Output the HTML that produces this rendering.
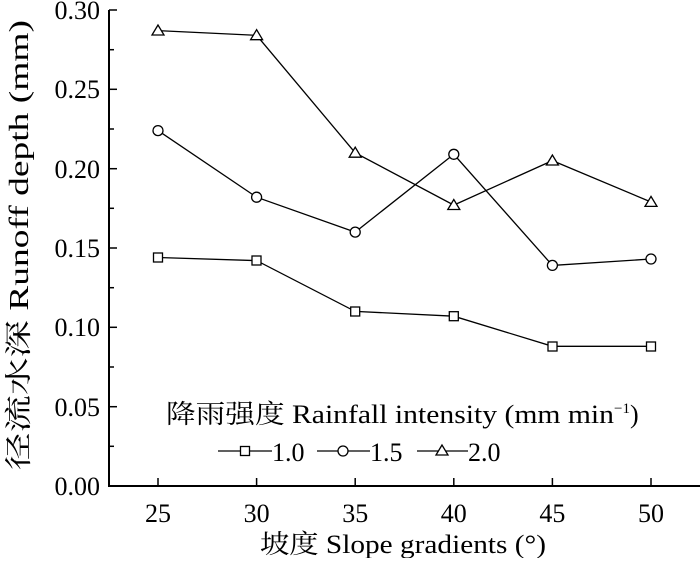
<!DOCTYPE html><html><head><style>body{margin:0;background:#fff}</style></head><body>
<svg width="700" height="558" xmlns="http://www.w3.org/2000/svg" font-family="'Liberation Serif','Noto Serif CJK SC',serif" fill="#000">
<g stroke="#000" stroke-width="2" fill="none">
<line x1="109" y1="10" x2="109" y2="487"/>
<line x1="108" y1="486" x2="700" y2="486"/>
</g>
<g stroke="#000" stroke-width="1.5">
<line x1="109" y1="10" x2="117" y2="10"/><line x1="109" y1="49.7" x2="114" y2="49.7"/>
<line x1="109" y1="89.3" x2="117" y2="89.3"/><line x1="109" y1="129" x2="114" y2="129"/>
<line x1="109" y1="168.7" x2="117" y2="168.7"/><line x1="109" y1="208.3" x2="114" y2="208.3"/>
<line x1="109" y1="248" x2="117" y2="248"/><line x1="109" y1="287.7" x2="114" y2="287.7"/>
<line x1="109" y1="327.3" x2="117" y2="327.3"/><line x1="109" y1="367" x2="114" y2="367"/>
<line x1="109" y1="406.7" x2="117" y2="406.7"/><line x1="109" y1="446.3" x2="114" y2="446.3"/>
<line x1="158" y1="486" x2="158" y2="478"/><line x1="256.6" y1="486" x2="256.6" y2="478"/>
<line x1="355.2" y1="486" x2="355.2" y2="478"/><line x1="453.8" y1="486" x2="453.8" y2="478"/>
<line x1="552.4" y1="486" x2="552.4" y2="478"/><line x1="651" y1="486" x2="651" y2="478"/>
</g>
<g font-size="26" text-anchor="end">
<text x="100" y="19">0.30</text><text x="100" y="98">0.25</text><text x="100" y="178">0.20</text>
<text x="100" y="257">0.15</text><text x="100" y="336">0.10</text><text x="100" y="416">0.05</text><text x="100" y="495">0.00</text>
</g>
<g font-size="26" text-anchor="middle">
<text x="158" y="522">25</text><text x="256.6" y="522">30</text><text x="355.2" y="522">35</text>
<text x="453.8" y="522">40</text><text x="552.4" y="522">45</text><text x="651" y="522">50</text>
</g>
<text x="260" y="553" font-size="26" textLength="286" lengthAdjust="spacingAndGlyphs">坡度 Slope gradients (°)</text>
<text font-size="27" transform="translate(28,470) rotate(-90)" textLength="450" lengthAdjust="spacingAndGlyphs">径流水深 Runoff depth (mm)</text>
<g stroke="#000" stroke-width="1.3" fill="none">
<polyline points="158,257.5 256.6,260.6 355.2,311.4 453.8,316.2 552.4,346.3 651,346.3"/>
<polyline points="158,130.6 256.6,197.2 355.2,232.1 453.8,154.3 552.4,265.4 651,259"/>
<polyline points="158,30.6 256.6,35.3 355.2,152.8 453.8,205.1 552.4,160.6 651,202"/>
</g>
<g stroke="#000" stroke-width="1.3" fill="#fff">
<rect x="153.5" y="253" width="9" height="9"/><rect x="252" y="256" width="9" height="9"/><rect x="350.7" y="307" width="9" height="9"/><rect x="449.3" y="311.7" width="9" height="9"/><rect x="548" y="342" width="9" height="9"/><rect x="646.5" y="342" width="9" height="9"/>
<circle cx="158" cy="130.6" r="5"/><circle cx="256.6" cy="197.2" r="5"/><circle cx="355.2" cy="232.1" r="5"/><circle cx="453.8" cy="154.3" r="5"/><circle cx="552.4" cy="265.4" r="5"/><circle cx="651" cy="259" r="5"/>
<polygon points="158,25 152,35 164,35"/><polygon points="256.6,29.7 250.6,39.7 262.6,39.7"/><polygon points="355.2,147.2 349.2,157.2 361.2,157.2"/><polygon points="453.8,199.5 447.8,209.5 459.8,209.5"/><polygon points="552.4,155 546.4,165 558.4,165"/><polygon points="651,196.4 645,206.4 657,206.4"/>
</g>
<text x="166" y="423" font-size="26" textLength="448" lengthAdjust="spacingAndGlyphs">降雨强度 Rainfall intensity (mm min</text>
<text x="614" y="413" font-size="15">−1</text>
<text x="630" y="423" font-size="26">)</text>
<g stroke="#000" stroke-width="1.3">
<line x1="218" y1="451" x2="272" y2="451"/><line x1="317" y1="451" x2="370" y2="451"/><line x1="417" y1="451" x2="468" y2="451"/>
</g>
<g stroke="#000" stroke-width="1.3" fill="#fff">
<rect x="240.5" y="446.5" width="9" height="9"/><circle cx="343" cy="451" r="5"/><polygon points="442,445 436,455 448,455"/>
</g>
<g font-size="26"><text x="272" y="461">1.0</text><text x="370" y="461">1.5</text><text x="468" y="461">2.0</text></g>
</svg></body></html>
